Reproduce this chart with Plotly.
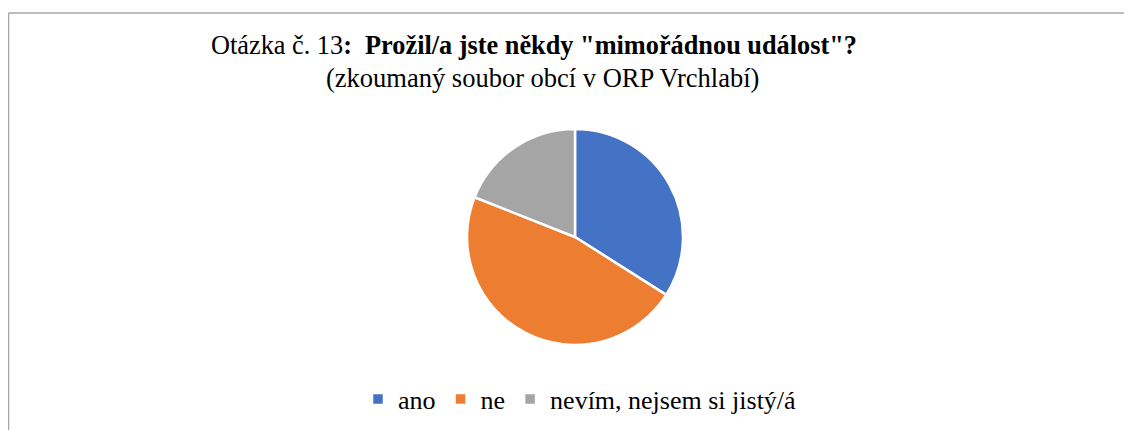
import plotly.graph_objects as go

labels = ["ano", "ne", "nevím, nejsem si jistý/á"]
values = [34, 47, 19]
colors = ["#4472C4", "#ED7D31", "#A5A5A5"]

W, H = 1132, 430
OFF = 8  # page body margin offset

def px(x):
    return (x - OFF) / W

def py(y):
    return 1 - (y - OFF) / H

fig = go.Figure()
fig.add_trace(go.Pie(
    labels=labels,
    values=values,
    sort=False,
    direction="clockwise",
    rotation=0,
    marker=dict(colors=colors, line=dict(color="white", width=2.5)),
    textinfo="none",
    hoverinfo="label+value",
    domain=dict(x=[px(467), px(683)], y=[py(345), py(129)]),
))

font_family = "Liberation Serif, Times New Roman, serif"

fig.update_layout(
    width=W, height=H,
    margin=dict(l=0, r=0, t=0, b=0),
    paper_bgcolor="white",
    plot_bgcolor="white",
    showlegend=True,
    legend=dict(
        orientation="h",
        x=px(580), xanchor="center",
        y=py(399), yanchor="middle",
        font=dict(family=font_family, size=26, color="black"),
        itemwidth=30,
        tracegroupgap=0,
    ),
    annotations=[
        dict(
            text='Otázka č. 13<b>:  Prožil/a jste někdy "mimořádnou událost"?</b>',
            x=px(534), y=py(46), xref="paper", yref="paper",
            xanchor="center", yanchor="middle", showarrow=False,
            font=dict(family=font_family, size=26.3, color="black"),
        ),
        dict(
            text="(zkoumaný soubor obcí v ORP Vrchlabí)",
            x=px(542), y=py(78), xref="paper", yref="paper",
            xanchor="center", yanchor="middle", showarrow=False,
            font=dict(family=font_family, size=26.5, color="black"),
        ),
    ],
    shapes=[
        dict(type="line", xref="paper", yref="paper",
             x0=px(8.5), x1=1.05, y0=py(13), y1=py(13),
             line=dict(color="#A6A6A6", width=1.5)),
        dict(type="line", xref="paper", yref="paper",
             x0=px(8.5), x1=px(8.5), y0=py(13), y1=-0.05,
             line=dict(color="#A6A6A6", width=1.5)),
    ],
)

fig.write_html("out.html")
